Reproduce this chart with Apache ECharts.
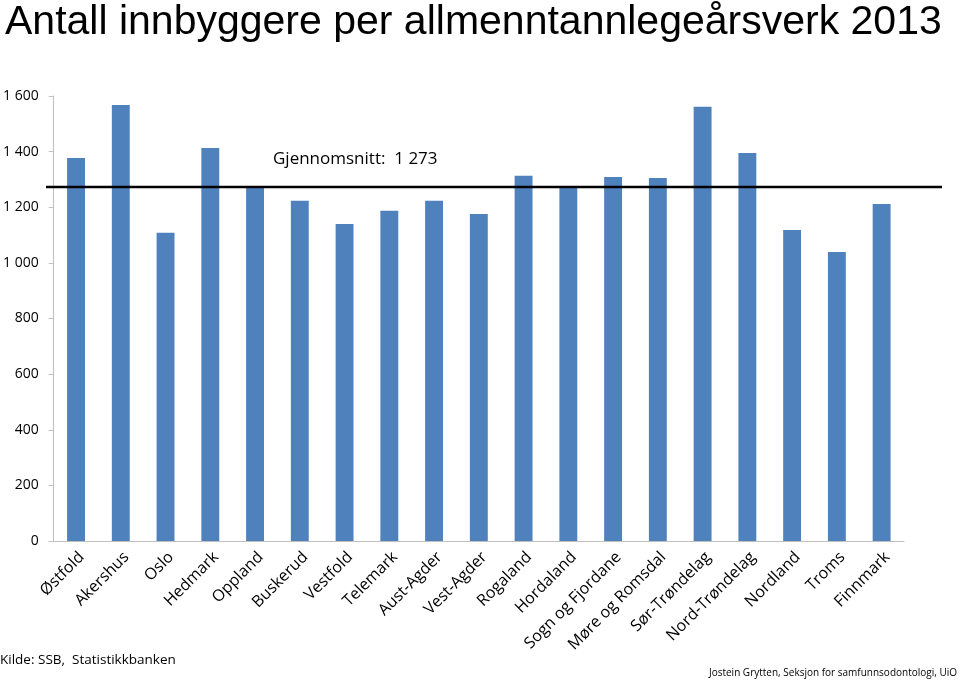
<!DOCTYPE html>
<html><head><meta charset="utf-8">
<script src="https://cdn.jsdelivr.net/npm/echarts@6/dist/echarts.min.js"></script>
<style>html,body{margin:0;padding:0;background:#fff}#c{width:960px;height:680px}</style>
</head><body><div id="c"></div>
<script>
const categories = ["Østfold","Akershus","Oslo","Hedmark","Oppland","Buskerud","Vestfold","Telemark","Aust-Agder","Vest-Agder","Rogaland","Hordaland","Sogn og Fjordane","Møre og Romsdal","Sør-Trøndelag","Nord-Trøndelag","Nordland","Troms","Finnmark"];
const values = [1377,1568,1108,1413,1269,1223,1140,1187,1223,1176,1313,1269,1309,1305,1561,1395,1118,1039,1212];
const average = 1273;
const yTicks = [0,200,400,600,800,1000,1200,1400,1600];
const titleText = "Antall innbyggere per allmenntannlegeårsverk 2013";
const avgLabel = "Gjennomsnitt:  1 273";
const sourceText = "Kilde: SSB,  Statistikkbanken";
const creditText = "Jostein Grytten, Seksjon for samfunnsodontologi, UiO";

const font = "Open Sans";
const fmt = v => String(v).replace(/\B(?=(\d{3})+(?!\d))/g, " ");
const chart = echarts.init(document.getElementById('c'));
chart.setOption({
  backgroundColor: '#fff',
  animation: false,
  title: { text: titleText, left: 0, top: -3, textStyle: { fontFamily: 'Liberation Sans', fontWeight: 'normal', fontSize: 41, color: '#000' } },
  grid: [
    { left: 52, right: 56, top: 96, bottom: 139 },
    { left: 46, right: 18, top: 96, bottom: 139 }
  ],
  xAxis: [
    { type: 'category', gridIndex: 0, data: categories,
      axisLine: { lineStyle: { color: '#bfbfbf', width: 1 } },
      axisTick: { show: false },
      axisLabel: { rotate: 45, interval: 0, fontFamily: font, fontSize: 16, color: '#000', margin: 8, verticalAlign: 'top', align: 'right' } },
    { type: 'value', gridIndex: 1, min: 0, max: 1, show: false }
  ],
  yAxis: [
    { type: 'value', gridIndex: 0, min: 0, max: 1600, interval: 200,
      axisLine: { show: true, lineStyle: { color: '#bfbfbf' } },
      axisTick: { show: true, inside: false, length: 5, lineStyle: { color: '#bfbfbf' } },
      splitLine: { show: false },
      axisLabel: { fontFamily: font, fontSize: 14, color: '#000', margin: 15, formatter: v => yTicks.includes(v) ? fmt(v) : '' } },
    { type: 'value', gridIndex: 1, min: 0, max: 1600, show: false }
  ],
  series: [
    { type: 'bar', xAxisIndex: 0, yAxisIndex: 0, data: values, barWidth: '40%', itemStyle: { color: '#4F81BD' } },
    { type: 'line', xAxisIndex: 1, yAxisIndex: 1, data: [[0, average], [1, average]], symbol: 'none',
      lineStyle: { color: '#000', width: 2.5 }, z: 5 }
  ],
  graphic: [
    { type: 'text', left: 273, top: 151, style: { text: avgLabel, font: '17px "Open Sans"', fill: '#000' } },
    { type: 'text', left: 0, top: 653, style: { text: sourceText, font: '13.5px "Open Sans"', fill: '#000' } },
    { type: 'text', right: 3, top: 668, style: { text: creditText, font: '10px "Open Sans"', fill: '#000' } }
  ]
});
</script></body></html>
